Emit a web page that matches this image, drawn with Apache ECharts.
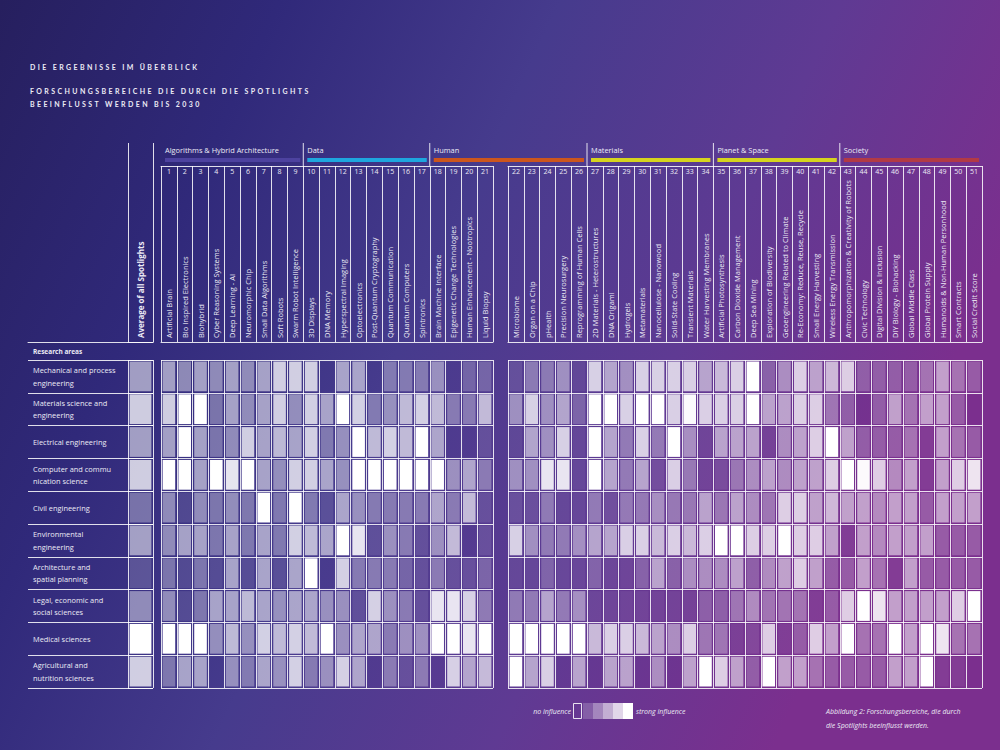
<!DOCTYPE html>
<html><head><meta charset="utf-8">
<script src="https://cdn.jsdelivr.net/npm/echarts@6/dist/echarts.min.js"></script>
<style>
html,body{margin:0;padding:0;background:#2a2466;}
#c{width:1000px;height:750px;}
#c svg text[style*="Lato"], #c svg text[font-family*="Lato"]{letter-spacing:2.4px;}
</style></head><body><div id="c"></div>
<script>
// ---------- data ----------
const titleLines = ['DIE ERGEBNISSE IM ÜBERBLICK', 'FORSCHUNGSBEREICHE DIE DURCH DIE SPOTLIGHTS', 'BEEINFLUSST WERDEN BIS 2030'];
const researchAreas = [
  'Mechanical and process\nengineering',
  'Materials science and\nengineering',
  'Electrical engineering',
  'Computer and commu\nnication science',
  'Civil engineering',
  'Environmental\nengineering',
  'Architecture and\nspatial planning',
  'Legal, economic and\nsocial sciences',
  'Medical sciences',
  'Agricultural and\nnutrition sciences'
];
const spotlights = [
  'Artificial Brain','Bio Inspired Electronics','Biohybrid','Cyber Reasoning Systems','Deep Learning - AI',
  'Neuromorphic Chip','Small Data Algorithms','Soft Robots','Swarm Robot Intelligence','3D Displays',
  'DNA Memory','Hyperspectral Imaging','Optoelectronics','Post-Quantum Cryptography','Quantum Communication',
  'Quantum Computers','Spintronics','Brain Machine Interface','Epigenetic Change Technologies','Human Enhancement - Nootropics',
  'Liquid Biopsy','Microbiome','Organ on a Chip','pHealth','Precision Neurosurgery',
  'Reprogramming of Human Cells','2D Materials - Heterostructures','DNA Origami','Hydrogels','Metamaterials',
  'Nanocellulose - Nanowood','Solid-State Cooling','Transient Materials','Water Harvesting Membranes','Artificial Photosynthesis',
  'Carbon Dioxide Management','Deep Sea Mining','Exploration of Biodiversity','Geoengineering Related to Climate','Re-Economy: Reduce, Reuse, Recycle',
  'Small Energy Harvesting','Wireless Energy Transmission','Anthropomorphization & Creativity of Robots','Civic Technology','Digital Division & Inclusion',
  'DIY Biology - Biohacking','Global Middle Class','Global Protein Supply','Humanoids & Non-Human Personhood','Smart Contracts',
  'Social Credit Score'
];
const avgLabel = 'Average of all Spotlights';
const groupNames  = ['Algorithms & Hybrid Architecture','Data','Human','Materials','Planet & Space','Society'];
const groupFirst  = [1, 10, 18, 27, 35, 43];
const groupLast   = [9, 17, 26, 34, 42, 51];
const groupColors = ['#4d429f','#1ea6de','#cc561d','#d6d41e','#d6d41e','#b23a45'];
const splitAfter = 21; // columns 1..21 left block, 22..51 right block

// influence 0 (none) .. 5 (strong), one value per spotlight 1..51
const mechanical = [2.5,2,2.5,2,2.5,2,2.5,3.5,3.5,3.5,0,2.5,2.5,0,1.5,1.5,1.5,2,0,1,1,
  0.5,1.5,1.5,2,0.3,3.5,2.5,2,3.5,3.5,3.5,3.5,2.5,3,3.5,5,1,2,3.5,2.5,3,3.5,1,1,1,1,1.5,2.5,1.5,1];
const materials = [3.5,5,5,1.5,2.5,2,2.5,3.5,2,3.5,2.5,5,3.5,1.5,2,3,3.5,3,1.5,1.5,3,
  2,3.5,2,2.5,1,5,5,3.5,5,5,3.5,4.5,3.5,3.5,3.5,5,2.5,2.5,3.5,3.5,1.5,1,0,1,2.5,1.5,2.5,2.5,1,0];
const electrical = [2.5,5,2.5,1.5,2,3.5,2.5,3,2.5,3.5,1.5,2,5,3,3.5,3,5,2.5,0,0,0.5,
  0.3,2.5,2,3.5,0.3,5,2.5,1.5,3.5,1.5,5,2,0.3,2.5,2.5,2.5,0.3,2,2.5,3.5,5,2.5,1,1,1,1.5,0.3,2.5,1.5,1];
const computer = [5,5,2.5,5,4,5,2.5,2,3.5,3.5,2.5,2,5,5,5,5,5,5,2,2.5,1.5,
  2,2,4,4,0.3,5,2.5,1.5,2.5,0.5,3.5,1.5,0.3,0.5,1.5,2,2.5,2,2.5,2.5,3.5,5,4.5,3.5,2,2.5,0.3,2.5,3.5,4];
const civil = [2,0.5,2,1.5,2,1.5,5,1.5,5,1.5,0.5,2.5,2,1.5,1.5,1.5,1.5,2.5,1.5,3,0.5,
  0.5,0.5,1.5,0.3,0.3,1.5,0.5,1.5,1.5,2,1.5,1.5,2.5,1.5,2.5,2,1.5,3.5,3.5,2.5,3,2.5,2.5,2,2.5,2.5,1,2.5,2.5,2.5];
const environmental = [2,2.5,2.5,1.5,2.5,1.5,2.5,1.5,3.5,3,2.5,5,4,0.5,2,1.5,0.5,2,3,0,0.5,
  3.5,2,1.5,1.5,2,2.5,2.5,3.5,3.5,3,3.5,3,3.5,5,5,3.5,3.5,5,3.5,3.5,2.5,0.3,2.5,2,2.5,2.5,2.5,1,1,1];
const architecture = [1.5,0.5,1.5,0.5,2.5,0.5,2.5,0.5,2.5,5,0,3.5,1.5,1.5,1.5,1,0.5,1.5,0.5,0.5,1,
  0.3,0.3,1,0.3,0.3,1,0.3,0.3,1,2.5,1,2,2,2,2.5,1,2,2.5,3.5,2.5,1,1,2.5,1.5,0.3,2.5,1,1,1,1];
const legal = [2,0.5,1.5,2.5,2.5,3,2.5,2,2.5,2.5,2,2,0.5,3.5,2,1.5,0.5,4,4,3.5,1.5,
  1.5,1.5,2.5,1.5,2,0.3,0.3,0.3,0.3,0.3,0.3,0.3,1,1,1.5,2,1.5,1.5,1.5,0.3,1,3.5,5,4,2.5,2.5,2.5,2.5,3.5,5];
const medical = [5,5,5,2,3,2,3.5,3,3.5,3,5,2,2.5,2.5,1.5,2,2,5,5,4,5,
  5,5,5,5,5,3,3.5,3.5,3,2.5,2,3.5,1.5,1.5,0.3,0.5,3.5,0.3,1,3.5,2.5,5,1.5,1.5,5,2.5,5,4,1.5,1.5];
const agricultural = [1.5,2.5,2.5,0,2,1.5,2.5,2,3.5,1.5,2,3.5,2.5,0,1.5,0.5,1.5,0,3.5,2.5,3,
  5,2.5,3.5,0,2.5,0,2.5,2.5,0,2,0,2.5,5,3.5,2.5,1,5,2.5,2.5,1.5,1,1,1,1,2.5,2.5,5,0.3,0.3,0];
const averageAll = [2.5,3.5,2.5,3.5,1.5,2.5,0.8,2,5,3.5];
const legendLevels = [0,1,2,3,4,5];
// ---------------------------

const rows = [mechanical, materials, electrical, computer, civil, environmental, architecture, legal, medical, agricultural];
const FONT = '"Open Sans","Noto Sans",sans-serif';
const TFONT = 'Lato, "Open Sans", sans-serif';
const TXT = '#ecebf5';
const LINE = 'rgba(255,255,255,0.85)';
const MAXV = 4.6;

const leftNames = spotlights.slice(0, splitAfter);
const rightNames = spotlights.slice(splitAfter);
const numsL = leftNames.map((_, i) => String(i + 1));
const numsR = rightNames.map((_, i) => String(i + 1 + splitAfter));

function cell(params, api) {
  const p = api.coord([api.value(0), api.value(1)]);
  const s = api.size([1, 1]);
  const v = api.value(2);
  const w = s[0] - 3.2, h = s[1] - 3;
  return {
    type: 'rect',
    shape: { x: p[0] - w / 2, y: p[1] - h / 2, width: w, height: h },
    style: { fill: 'rgba(255,255,255,' + Math.min(1, v / MAXV).toFixed(3) + ')' }
  };
}

const leftData = [], rightData = [];
rows.forEach((r, ri) => r.forEach((v, ci) => {
  if (ci < splitAfter) leftData.push([ci, ri, v]);
  else rightData.push([ci - splitAfter, ri, v]);
}));
const avgData = averageAll.map((v, i) => [0, i, v]);

const TOP = 360, H = 328;
const hiddenCat = (gi, data) => ({
  gridIndex: gi, type: 'category', data: data,
  axisLine: { show: false }, axisTick: { show: false }, axisLabel: { show: false },
  splitLine: { show: true, interval: 0, lineStyle: { color: LINE, width: 1 } }
});
const headerNames = (gi, data) => ({
  gridIndex: gi, type: 'category', data: data, position: 'bottom',
  axisLine: { show: true, lineStyle: { color: LINE, width: 1 } }, axisTick: { show: false },
  axisLabel: { inside: true, rotate: 90, interval: 0, margin: 4, color: TXT, fontSize: 7.5, fontFamily: FONT },
  splitLine: { show: true, interval: 0, lineStyle: { color: LINE, width: 1 } }
});
const headerNums = (gi, data) => ({
  gridIndex: gi, type: 'category', data: data, position: 'top',
  axisLine: { show: true, lineStyle: { color: LINE, width: 1 } }, axisTick: { show: false },
  axisLabel: { inside: true, interval: 0, margin: 2, color: TXT, fontSize: 7, fontFamily: FONT },
  splitLine: { show: false }
});
const hiddenVal = gi => ({ gridIndex: gi, type: 'value', show: false, min: 0, max: 1 });
const rowAxis = (gi, labels) => ({
  gridIndex: gi, type: 'category', data: researchAreas, inverse: true,
  axisLine: { show: false }, axisTick: { show: false },
  axisLabel: labels ? { show: true, inside: true, margin: 5, color: TXT, fontSize: 7.4, lineHeight: 12.5, fontFamily: FONT, interval: 0 } : { show: false },
  splitLine: { show: true, interval: 0, lineStyle: { color: LINE, width: 1 } }
});

const chart = echarts.init(document.getElementById('c'), null, { renderer: 'svg', width: 1000, height: 750 });

const option = {
  animation: false,
  backgroundColor: {
    type: 'linear', x: 0, y: 0, x2: 1, y2: 0.35,
    colorStops: [
      { offset: 0, color: '#261f5e' },
      { offset: 0.25, color: '#30297a' },
      { offset: 0.5, color: '#463b8d' },
      { offset: 0.75, color: '#5f3a93' },
      { offset: 1, color: '#7b2f8e' }
    ]
  },
  grid: [
    { left: 28, top: TOP, width: 125, height: H },   // 0 row labels
    { left: 128, top: TOP, width: 25, height: H },   // 1 average
    { left: 161, top: TOP, width: 332, height: H },  // 2 spotlights 1-21
    { left: 508, top: TOP, width: 474, height: H },  // 3 spotlights 22-51
    { left: 128, top: 143, width: 25, height: 199 }, // 4 avg header
    { left: 161, top: 166, width: 332, height: 176 },// 5 header left
    { left: 508, top: 166, width: 474, height: 176 },// 6 header right
    { left: 28, top: 143, width: 125, height: 199 }  // 7 header bottom line
  ],
  xAxis: [
    hiddenVal(0),
    hiddenCat(1, [avgLabel]),
    hiddenCat(2, leftNames),
    hiddenCat(3, rightNames),
    Object.assign(headerNames(4, [avgLabel]), { axisLabel: { inside: true, rotate: 90, interval: 0, margin: 4, color: TXT, fontSize: 8, fontWeight: 'bold', fontFamily: FONT } }),
    headerNames(5, leftNames),
    headerNums(5, numsL),
    headerNames(6, rightNames),
    headerNums(6, numsR),
    { gridIndex: 7, type: 'value', min: 0, max: 1, position: 'bottom', axisLine: { show: true, lineStyle: { color: LINE, width: 1 } }, axisTick: { show: false }, axisLabel: { show: false }, splitLine: { show: false } }
  ],
  yAxis: [
    rowAxis(0, true), rowAxis(1, false), rowAxis(2, false), rowAxis(3, false),
    hiddenVal(4), hiddenVal(5), hiddenVal(6), hiddenVal(7)
  ],
  series: [
    { type: 'custom', xAxisIndex: 1, yAxisIndex: 1, renderItem: cell, data: avgData, silent: true },
    { type: 'custom', xAxisIndex: 2, yAxisIndex: 2, renderItem: cell, data: leftData, silent: true },
    { type: 'custom', xAxisIndex: 3, yAxisIndex: 3, renderItem: cell, data: rightData, silent: true }
  ]
};
chart.setOption(option);

// group headers, positioned through the header axes
const colEdge = (col, side) => {
  const left = col <= splitAfter;
  const axisIdx = left ? 5 : 7;
  const name = spotlights[col - 1];
  const c = chart.convertToPixel({ xAxisIndex: axisIdx }, name);
  const w = left ? 332 / splitAfter : 474 / (spotlights.length - splitAfter);
  return side === 'l' ? c - w / 2 : c + w / 2;
};
const graphics = [];
titleLines.forEach((t, i) => graphics.push({
  type: 'text', left: 30, top: [63, 87, 100][i],
  style: { text: t, fill: TXT, font: 'bold 7px ' + TFONT }
}));
graphics.push({ type: 'text', left: 33, top: 348, style: { text: 'Research areas', fill: TXT, font: 'bold 6.5px ' + FONT } });
groupNames.forEach((g, i) => {
  const x0 = colEdge(groupFirst[i], 'l');
  const x1 = colEdge(groupLast[i], 'r');
  graphics.push({ type: 'text', x: x0 + 4, y: 150, style: { text: g, fill: TXT, font: '7.4px ' + FONT, textVerticalAlign: 'middle' } });
  graphics.push({ type: 'rect', shape: { x: x0 + 4, y: 158, width: x1 - x0 - 7, height: 4 }, style: { fill: groupColors[i] } });
  if (i > 0) graphics.push({ type: 'line', shape: { x1: x0, y1: 143, x2: x0, y2: 166 }, style: { stroke: LINE, lineWidth: 1 } });
});
// legend
graphics.push({ type: 'text', x: 571, y: 711, style: { text: 'no influence', fill: TXT, font: 'italic 7px ' + FONT, textAlign: 'right', textVerticalAlign: 'middle' } });
legendLevels.forEach((lv, i) => {
  if (lv === 0) {
    graphics.push({ type: 'rect', shape: { x: 573.5, y: 703.5, width: 8, height: 15 }, style: { fill: 'none', stroke: LINE, lineWidth: 1 } });
  } else {
    graphics.push({ type: 'rect', shape: { x: 583 + (i - 1) * 10, y: 703, width: 10, height: 16 }, style: { fill: 'rgba(255,255,255,' + (lv / 5).toFixed(2) + ')' } });
  }
});
graphics.push({ type: 'text', x: 636, y: 711, style: { text: 'strong influence', fill: TXT, font: 'italic 7px ' + FONT, textVerticalAlign: 'middle' } });
graphics.push({ type: 'text', x: 826, y: 711, style: { text: 'Abbildung 2: Forschungsbereiche, die durch', fill: TXT, font: 'italic 7px ' + FONT, textVerticalAlign: 'middle' } });
graphics.push({ type: 'text', x: 826, y: 725, style: { text: 'die Spotlights beeinflusst werden.', fill: TXT, font: 'italic 7px ' + FONT, textVerticalAlign: 'middle' } });
chart.setOption({ graphic: graphics });
</script></body></html>
